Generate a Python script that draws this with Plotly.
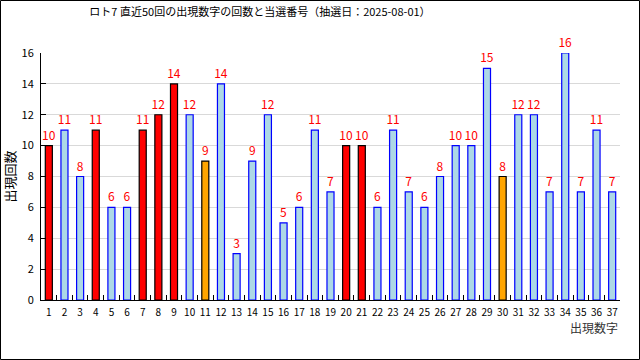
import plotly.graph_objects as go

numbers = [str(i) for i in range(1, 38)]
counts = [10, 11, 8, 11, 6, 6, 11, 12, 14, 12, 9, 14, 3, 9, 12, 5, 6, 11, 7, 10,
          10, 6, 11, 7, 6, 8, 10, 10, 15, 8, 12, 12, 7, 16, 7, 11, 7]
main_numbers = ["1", "4", "7", "8", "9", "20", "21"]
bonus_numbers = ["11", "30"]
y_ticks = [0, 2, 4, 6, 8, 10, 12, 14, 16]

fills, lines = [], []
for n in numbers:
    if n in main_numbers:
        fills.append("#ff0000"); lines.append("#000000")
    elif n in bonus_numbers:
        fills.append("#ffa500"); lines.append("#000000")
    else:
        fills.append("#add8e6"); lines.append("#0000ff")

FONT = "Noto Sans CJK JP"
W, H = 640, 360
ml, mr, mt, mb = 41, 20, 53, 60
pw, ph = W - ml - mr, H - mt - mb
bottom_px = H - mb

fig = go.Figure(go.Bar(
    x=numbers, y=counts, width=0.45,
    marker=dict(color=fills, line=dict(color=lines, width=1.2)),
    text=[str(c) for c in counts], textposition="outside",
    textfont=dict(color="#ff0000", size=12, family=FONT),
    constraintext="none",
    cliponaxis=False,
))

fig.update_layout(
    width=W, height=H, margin=dict(l=ml, r=mr, t=mt, b=mb, autoexpand=False),
    paper_bgcolor="white", plot_bgcolor="white",
    font=dict(family=FONT, size=11, color="#000000"),
    showlegend=False,
    uniformtext=dict(mode=False),
    title=dict(text="ロト7 直近50回の出現数字の回数と当選番号（抽選日：2025-08-01）",
               x=260 / W, xanchor="center", xref="container",
               y=1 - 12 / H, yanchor="middle", yref="container",
               font=dict(size=11, family=FONT, color="#000000")),
    xaxis=dict(type="category", tickson="boundaries", ticks="inside", ticklen=5,
               tickcolor="#000000", showline=True, linecolor="#000000", linewidth=1,
               showgrid=False, tickfont=dict(size=10), tickangle=0,
               automargin=False, ticklabelstandoff=3),
    yaxis=dict(range=[0, 16], tickvals=y_ticks, ticks="inside", ticklen=5,
               tickcolor="#000000", showline=True, linecolor="#000000", linewidth=1,
               showgrid=True, gridcolor="#d9d9d9", gridwidth=1, zeroline=False,
               tickfont=dict(size=11), automargin=False, ticklabelstandoff=4,
               title=dict(text="出現回数", font=dict(size=13), standoff=6)),
    annotations=[dict(text="出現数字", xref="paper", yref="paper", x=1, y=0,
                      xanchor="right", yanchor="middle", yshift=-27, showarrow=False,
                      font=dict(size=12, color="#333333", family=FONT))],
    shapes=[dict(type="rect", xref="paper", yref="paper",
                 x0=(0.5 - ml) / pw, x1=(W - 0.5 - ml) / pw,
                 y0=(bottom_px - (H - 0.5)) / ph, y1=(bottom_px - 0.5) / ph,
                 line=dict(color="#000000", width=1), layer="above")],
)

fig.write_html("out.html", config={"displayModeBar": False},
               post_script="document.body.style.margin='0';document.body.style.overflow='hidden';")
